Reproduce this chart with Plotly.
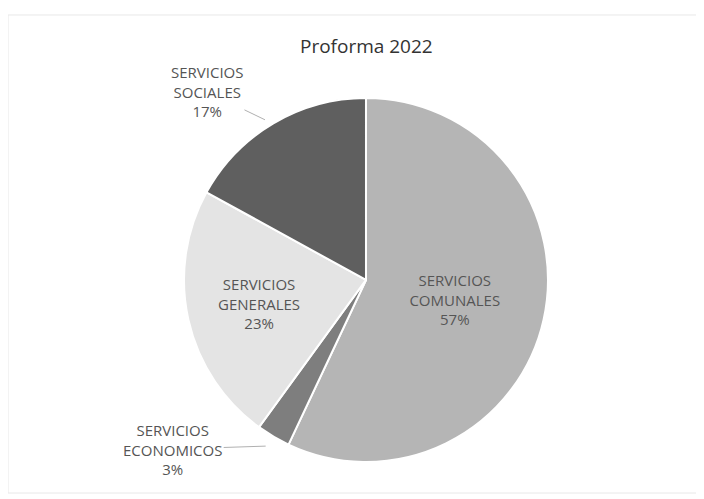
import plotly.graph_objects as go

# ── data ──────────────────────────────────────────────────────────────
labels = ["SERVICIOS<br>COMUNALES", "SERVICIOS<br>ECONOMICOS",
          "SERVICIOS<br>GENERALES", "SERVICIOS<br>SOCIALES"]
values = [57, 3, 23, 17]
colors = ["#b5b5b5", "#7e7e7e", "#e4e4e4", "#5f5f5f"]
# slices labelled inside vs. with a leader line outside
inside = [True, False, True, False]

TEXT = "#555555"
FONT = "Open Sans, Noto Sans, sans-serif"
LBL = dict(color=TEXT, size=15, family=FONT)

fig = go.Figure(go.Pie(
    labels=labels, values=values, sort=False, direction="clockwise",
    rotation=0,
    marker=dict(colors=colors, line=dict(color="white", width=2)),
    texttemplate=["%{label}<br>%{percent:.0%}" if i else "" for i in inside],
    textposition="inside", insidetextorientation="horizontal",
    textfont=LBL,
    domain=dict(x=[0.250, 0.767], y=[0.090, 0.820]),
    showlegend=False, hoverinfo="label+percent",
))

# outside labels with thin leader lines
total = sum(values)
pct = [f"{round(v / total * 100)}%" for v in values]
fig.add_annotation(text=f"{labels[3]}<br>{pct[3]}", xref="paper", yref="paper",
                   x=0.365, y=0.776, ax=-58, ay=-28, showarrow=True,
                   arrowhead=0, arrowwidth=1, arrowcolor="#b0b0b0",
                   font=LBL)
fig.add_annotation(text=f"{labels[1]}<br>{pct[1]}", xref="paper", yref="paper",
                   x=0.366, y=0.122, ax=-93, ay=3, showarrow=True,
                   arrowhead=0, arrowwidth=1, arrowcolor="#b0b0b0",
                   font=LBL)

# faint frame of the scanned chart area
fig.add_shape(type="rect", xref="paper", yref="paper", x0=0.0, x1=0.995,
              y0=0.028, y1=0.986, line=dict(color="#e8e8e8", width=1))

fig.update_layout(
    width=704, height=499,
    margin=dict(l=0, r=0, t=0, b=0),
    paper_bgcolor="white", plot_bgcolor="white",
    title=dict(text="Proforma 2022", x=0.509, xanchor="center", y=0.924,
               yanchor="middle", font=dict(color="#333333", size=19, family=FONT)),
)

fig.write_html("out.html")
